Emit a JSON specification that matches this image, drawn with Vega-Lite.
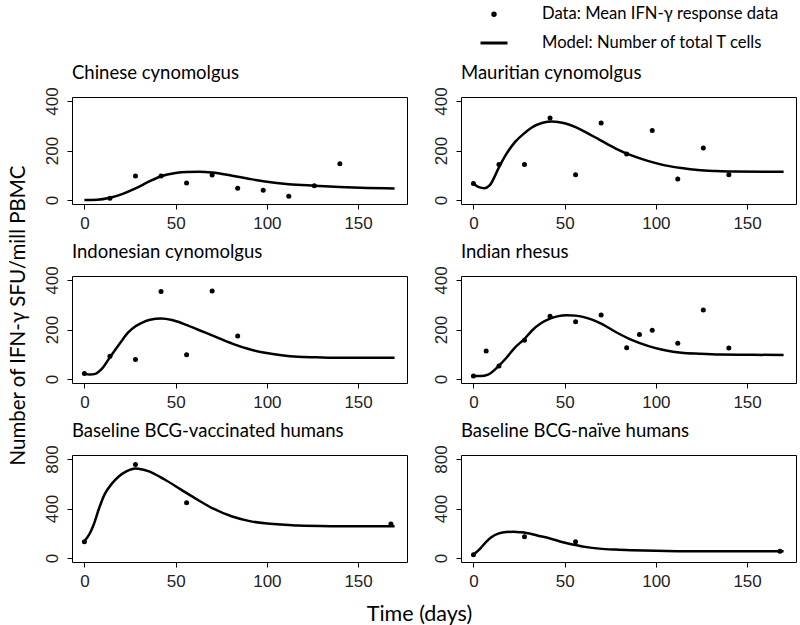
{
  "$schema": "https://vega.github.io/schema/vega-lite/v6.json",
  "padding": {"left": 8, "top": 6, "right": 0, "bottom": 0},
  "background": "white",
  "config": {
    "view": {"stroke": "black", "strokeWidth": 1},
    "axis": {"grid": false, "domain": false, "tickColor": "black", "tickSize": 5, "tickWidth": 1, "labelFont": "Liberation Sans", "labelFontSize": 17, "labelColor": "#222", "labelFlush": false, "title": null},
    "axisX": {"labelPadding": 6},
    "axisY": {"labelPadding": 6, "labelAngle": -90, "labelAlign": "center", "labelBaseline": "bottom"},
    "title": {"font": "Lato", "fontSize": 18.5, "fontWeight": "normal", "anchor": "start", "frame": "group", "offset": 4, "color": "black"},
    "legend": {"orient": "none", "legendX": 407, "legendY": -91, "labelFont": "Lato", "labelFontSize": 16.6, "labelColor": "black", "labelLimit": 0, "rowPadding": 5, "labelOffset": 33, "symbolStrokeColor": "black", "symbolFillColor": "transparent", "symbolStrokeWidth": 3, "title": null}
  },
  "datasets": {
    "pts": [
      {"panel": "Chinese cynomolgus", "day": 14, "value": 7},
      {"panel": "Chinese cynomolgus", "day": 28, "value": 97},
      {"panel": "Chinese cynomolgus", "day": 42, "value": 97},
      {"panel": "Chinese cynomolgus", "day": 56, "value": 69},
      {"panel": "Chinese cynomolgus", "day": 70, "value": 101},
      {"panel": "Chinese cynomolgus", "day": 84, "value": 48},
      {"panel": "Chinese cynomolgus", "day": 98, "value": 40},
      {"panel": "Chinese cynomolgus", "day": 112, "value": 15},
      {"panel": "Chinese cynomolgus", "day": 126, "value": 58},
      {"panel": "Chinese cynomolgus", "day": 140, "value": 147},
      {"panel": "Mauritian cynomolgus", "day": 0, "value": 67},
      {"panel": "Mauritian cynomolgus", "day": 14, "value": 143},
      {"panel": "Mauritian cynomolgus", "day": 28, "value": 143},
      {"panel": "Mauritian cynomolgus", "day": 42, "value": 331},
      {"panel": "Mauritian cynomolgus", "day": 56, "value": 102},
      {"panel": "Mauritian cynomolgus", "day": 70, "value": 311},
      {"panel": "Mauritian cynomolgus", "day": 84, "value": 186},
      {"panel": "Mauritian cynomolgus", "day": 98, "value": 281},
      {"panel": "Mauritian cynomolgus", "day": 112, "value": 85},
      {"panel": "Mauritian cynomolgus", "day": 126, "value": 210},
      {"panel": "Mauritian cynomolgus", "day": 140, "value": 102},
      {"panel": "Indonesian cynomolgus", "day": 0, "value": 22},
      {"panel": "Indonesian cynomolgus", "day": 14, "value": 92},
      {"panel": "Indonesian cynomolgus", "day": 28, "value": 79},
      {"panel": "Indonesian cynomolgus", "day": 42, "value": 353},
      {"panel": "Indonesian cynomolgus", "day": 56, "value": 98},
      {"panel": "Indonesian cynomolgus", "day": 70, "value": 355},
      {"panel": "Indonesian cynomolgus", "day": 84, "value": 174},
      {"panel": "Indian rhesus", "day": 0, "value": 12},
      {"panel": "Indian rhesus", "day": 7, "value": 113},
      {"panel": "Indian rhesus", "day": 14, "value": 53},
      {"panel": "Indian rhesus", "day": 28, "value": 157},
      {"panel": "Indian rhesus", "day": 42, "value": 254},
      {"panel": "Indian rhesus", "day": 56, "value": 231},
      {"panel": "Indian rhesus", "day": 70, "value": 259},
      {"panel": "Indian rhesus", "day": 84, "value": 126},
      {"panel": "Indian rhesus", "day": 91, "value": 180},
      {"panel": "Indian rhesus", "day": 98, "value": 197},
      {"panel": "Indian rhesus", "day": 112, "value": 144},
      {"panel": "Indian rhesus", "day": 126, "value": 279},
      {"panel": "Indian rhesus", "day": 140, "value": 125},
      {"panel": "Baseline BCG-vaccinated humans", "day": 0, "value": 131},
      {"panel": "Baseline BCG-vaccinated humans", "day": 28, "value": 756},
      {"panel": "Baseline BCG-vaccinated humans", "day": 56, "value": 446},
      {"panel": "Baseline BCG-vaccinated humans", "day": 168, "value": 275},
      {"panel": "Baseline BCG-naïve humans", "day": 0, "value": 27},
      {"panel": "Baseline BCG-naïve humans", "day": 28, "value": 171},
      {"panel": "Baseline BCG-naïve humans", "day": 56, "value": 131},
      {"panel": "Baseline BCG-naïve humans", "day": 168, "value": 54}
    ],
    "legendKeys": [
      {"kind": "Data: Mean IFN-γ response data", "day": 0, "value": 0},
      {"kind": "Model:  Number of total T cells", "day": 0, "value": 0}
    ],
    "model": [
      {"panel": "Chinese cynomolgus", "day": 0, "value": 0},
      {"panel": "Chinese cynomolgus", "day": 7, "value": 1},
      {"panel": "Chinese cynomolgus", "day": 14, "value": 9},
      {"panel": "Chinese cynomolgus", "day": 21, "value": 25},
      {"panel": "Chinese cynomolgus", "day": 28, "value": 47},
      {"panel": "Chinese cynomolgus", "day": 35, "value": 73},
      {"panel": "Chinese cynomolgus", "day": 42, "value": 96},
      {"panel": "Chinese cynomolgus", "day": 50, "value": 109},
      {"panel": "Chinese cynomolgus", "day": 56, "value": 113},
      {"panel": "Chinese cynomolgus", "day": 63, "value": 114},
      {"panel": "Chinese cynomolgus", "day": 70, "value": 111},
      {"panel": "Chinese cynomolgus", "day": 81, "value": 98},
      {"panel": "Chinese cynomolgus", "day": 90, "value": 86},
      {"panel": "Chinese cynomolgus", "day": 99, "value": 75},
      {"panel": "Chinese cynomolgus", "day": 112, "value": 64},
      {"panel": "Chinese cynomolgus", "day": 126, "value": 58},
      {"panel": "Chinese cynomolgus", "day": 140, "value": 53},
      {"panel": "Chinese cynomolgus", "day": 155, "value": 49},
      {"panel": "Chinese cynomolgus", "day": 170, "value": 47},
      {"panel": "Mauritian cynomolgus", "day": 0, "value": 67},
      {"panel": "Mauritian cynomolgus", "day": 3, "value": 52},
      {"panel": "Mauritian cynomolgus", "day": 6, "value": 48},
      {"panel": "Mauritian cynomolgus", "day": 9, "value": 60},
      {"panel": "Mauritian cynomolgus", "day": 14, "value": 132},
      {"panel": "Mauritian cynomolgus", "day": 18, "value": 185},
      {"panel": "Mauritian cynomolgus", "day": 23, "value": 236},
      {"panel": "Mauritian cynomolgus", "day": 28, "value": 270},
      {"panel": "Mauritian cynomolgus", "day": 32, "value": 293},
      {"panel": "Mauritian cynomolgus", "day": 38, "value": 312},
      {"panel": "Mauritian cynomolgus", "day": 43, "value": 317},
      {"panel": "Mauritian cynomolgus", "day": 50, "value": 310},
      {"panel": "Mauritian cynomolgus", "day": 56, "value": 294},
      {"panel": "Mauritian cynomolgus", "day": 62, "value": 272},
      {"panel": "Mauritian cynomolgus", "day": 69, "value": 244},
      {"panel": "Mauritian cynomolgus", "day": 78, "value": 208},
      {"panel": "Mauritian cynomolgus", "day": 87, "value": 179},
      {"panel": "Mauritian cynomolgus", "day": 96, "value": 157},
      {"panel": "Mauritian cynomolgus", "day": 105, "value": 140},
      {"panel": "Mauritian cynomolgus", "day": 114, "value": 129},
      {"panel": "Mauritian cynomolgus", "day": 123, "value": 121},
      {"panel": "Mauritian cynomolgus", "day": 133, "value": 117},
      {"panel": "Mauritian cynomolgus", "day": 142, "value": 115},
      {"panel": "Mauritian cynomolgus", "day": 170, "value": 114},
      {"panel": "Indonesian cynomolgus", "day": 0, "value": 22},
      {"panel": "Indonesian cynomolgus", "day": 3, "value": 18},
      {"panel": "Indonesian cynomolgus", "day": 6, "value": 21},
      {"panel": "Indonesian cynomolgus", "day": 10, "value": 45},
      {"panel": "Indonesian cynomolgus", "day": 14, "value": 88},
      {"panel": "Indonesian cynomolgus", "day": 20, "value": 150},
      {"panel": "Indonesian cynomolgus", "day": 24, "value": 188},
      {"panel": "Indonesian cynomolgus", "day": 28, "value": 213},
      {"panel": "Indonesian cynomolgus", "day": 32, "value": 229},
      {"panel": "Indonesian cynomolgus", "day": 36, "value": 239},
      {"panel": "Indonesian cynomolgus", "day": 42, "value": 244},
      {"panel": "Indonesian cynomolgus", "day": 48, "value": 238},
      {"panel": "Indonesian cynomolgus", "day": 54, "value": 224},
      {"panel": "Indonesian cynomolgus", "day": 62, "value": 200},
      {"panel": "Indonesian cynomolgus", "day": 72, "value": 170},
      {"panel": "Indonesian cynomolgus", "day": 81, "value": 143},
      {"panel": "Indonesian cynomolgus", "day": 90, "value": 121},
      {"panel": "Indonesian cynomolgus", "day": 99, "value": 106},
      {"panel": "Indonesian cynomolgus", "day": 108, "value": 96},
      {"panel": "Indonesian cynomolgus", "day": 117, "value": 90},
      {"panel": "Indonesian cynomolgus", "day": 127, "value": 88},
      {"panel": "Indonesian cynomolgus", "day": 140, "value": 86},
      {"panel": "Indonesian cynomolgus", "day": 170, "value": 86},
      {"panel": "Indian rhesus", "day": 0, "value": 12},
      {"panel": "Indian rhesus", "day": 4, "value": 12},
      {"panel": "Indian rhesus", "day": 8, "value": 18},
      {"panel": "Indian rhesus", "day": 14, "value": 54},
      {"panel": "Indian rhesus", "day": 18, "value": 85},
      {"panel": "Indian rhesus", "day": 23, "value": 129},
      {"panel": "Indian rhesus", "day": 28, "value": 162},
      {"panel": "Indian rhesus", "day": 32, "value": 195},
      {"panel": "Indian rhesus", "day": 37, "value": 225},
      {"panel": "Indian rhesus", "day": 42, "value": 244},
      {"panel": "Indian rhesus", "day": 46, "value": 253},
      {"panel": "Indian rhesus", "day": 51, "value": 258},
      {"panel": "Indian rhesus", "day": 56, "value": 256},
      {"panel": "Indian rhesus", "day": 60, "value": 251},
      {"panel": "Indian rhesus", "day": 65, "value": 240},
      {"panel": "Indian rhesus", "day": 70, "value": 224},
      {"panel": "Indian rhesus", "day": 78, "value": 190},
      {"panel": "Indian rhesus", "day": 87, "value": 157},
      {"panel": "Indian rhesus", "day": 96, "value": 133},
      {"panel": "Indian rhesus", "day": 105, "value": 116},
      {"panel": "Indian rhesus", "day": 114, "value": 106},
      {"panel": "Indian rhesus", "day": 124, "value": 102},
      {"panel": "Indian rhesus", "day": 135, "value": 99},
      {"panel": "Indian rhesus", "day": 150, "value": 98},
      {"panel": "Indian rhesus", "day": 170, "value": 97},
      {"panel": "Baseline BCG-vaccinated humans", "day": 0, "value": 135},
      {"panel": "Baseline BCG-vaccinated humans", "day": 3, "value": 200},
      {"panel": "Baseline BCG-vaccinated humans", "day": 5, "value": 267},
      {"panel": "Baseline BCG-vaccinated humans", "day": 8, "value": 400},
      {"panel": "Baseline BCG-vaccinated humans", "day": 11, "value": 512},
      {"panel": "Baseline BCG-vaccinated humans", "day": 15, "value": 600},
      {"panel": "Baseline BCG-vaccinated humans", "day": 19, "value": 661},
      {"panel": "Baseline BCG-vaccinated humans", "day": 23, "value": 700},
      {"panel": "Baseline BCG-vaccinated humans", "day": 28, "value": 724},
      {"panel": "Baseline BCG-vaccinated humans", "day": 35, "value": 702},
      {"panel": "Baseline BCG-vaccinated humans", "day": 44, "value": 634},
      {"panel": "Baseline BCG-vaccinated humans", "day": 53, "value": 552},
      {"panel": "Baseline BCG-vaccinated humans", "day": 62, "value": 471},
      {"panel": "Baseline BCG-vaccinated humans", "day": 71, "value": 396},
      {"panel": "Baseline BCG-vaccinated humans", "day": 81, "value": 335},
      {"panel": "Baseline BCG-vaccinated humans", "day": 90, "value": 300},
      {"panel": "Baseline BCG-vaccinated humans", "day": 99, "value": 280},
      {"panel": "Baseline BCG-vaccinated humans", "day": 108, "value": 270},
      {"panel": "Baseline BCG-vaccinated humans", "day": 117, "value": 262},
      {"panel": "Baseline BCG-vaccinated humans", "day": 136, "value": 257},
      {"panel": "Baseline BCG-vaccinated humans", "day": 150, "value": 256},
      {"panel": "Baseline BCG-vaccinated humans", "day": 170, "value": 256},
      {"panel": "Baseline BCG-naïve humans", "day": 0, "value": 27},
      {"panel": "Baseline BCG-naïve humans", "day": 4, "value": 80},
      {"panel": "Baseline BCG-naïve humans", "day": 7, "value": 131},
      {"panel": "Baseline BCG-naïve humans", "day": 10, "value": 170},
      {"panel": "Baseline BCG-naïve humans", "day": 14, "value": 199},
      {"panel": "Baseline BCG-naïve humans", "day": 18, "value": 210},
      {"panel": "Baseline BCG-naïve humans", "day": 22, "value": 212},
      {"panel": "Baseline BCG-naïve humans", "day": 26, "value": 208},
      {"panel": "Baseline BCG-naïve humans", "day": 29, "value": 203},
      {"panel": "Baseline BCG-naïve humans", "day": 35, "value": 182},
      {"panel": "Baseline BCG-naïve humans", "day": 42, "value": 158},
      {"panel": "Baseline BCG-naïve humans", "day": 49, "value": 128},
      {"panel": "Baseline BCG-naïve humans", "day": 56, "value": 105},
      {"panel": "Baseline BCG-naïve humans", "day": 62, "value": 88},
      {"panel": "Baseline BCG-naïve humans", "day": 69, "value": 76},
      {"panel": "Baseline BCG-naïve humans", "day": 78, "value": 68},
      {"panel": "Baseline BCG-naïve humans", "day": 87, "value": 63},
      {"panel": "Baseline BCG-naïve humans", "day": 100, "value": 58},
      {"panel": "Baseline BCG-naïve humans", "day": 115, "value": 55},
      {"panel": "Baseline BCG-naïve humans", "day": 142, "value": 54},
      {"panel": "Baseline BCG-naïve humans", "day": 170, "value": 54}
    ]
  },
  "title": {"text": "Number of IFN-γ SFU/mill PBMC", "orient": "left", "anchor": "middle", "frame": "bounds", "fontSize": 20.5, "offset": 13},
  "vconcat": [
    {
      "title": {"text": "Time (days)", "orient": "bottom", "anchor": "middle", "frame": "bounds", "fontSize": 21.5, "offset": 14},
      "columns": 2,
      "bounds": "flush",
      "spacing": {"row": 72, "column": 54},
      "concat": [
        {
          "title": "Chinese cynomolgus",
          "width": 335, "height": 107,
          "layer": [
            {"data": {"name": "model"}, "transform": [{"filter": "datum.panel === 'Chinese cynomolgus'"}], "mark": {"type": "line", "color": "black", "strokeWidth": 2.5, "interpolate": "monotone"},
             "encoding": {"x": {"field": "day", "type": "quantitative", "scale": {"domain": [-6.8, 176.8], "nice": false, "zero": false}, "axis": {"values": [0, 50, 100, 150]}},
                          "y": {"field": "value", "type": "quantitative", "scale": {"domain": [-16, 416], "nice": false, "zero": false}, "axis": {"values": [0, 100, 200, 300, 400], "labelExpr": "datum.value % 200 === 0 ? datum.label : ''"}}}},
            {"data": {"name": "pts"}, "transform": [{"filter": "datum.panel === 'Chinese cynomolgus'"}], "mark": {"type": "point", "filled": true, "color": "black", "size": 25, "opacity": 1},
             "encoding": {"x": {"field": "day", "type": "quantitative"}, "y": {"field": "value", "type": "quantitative"}}}
          ]
        },
        {
          "title": "Mauritian cynomolgus",
          "width": 335, "height": 107,
          "layer": [
            {"data": {"name": "model"}, "transform": [{"filter": "datum.panel === 'Mauritian cynomolgus'"}], "mark": {"type": "line", "color": "black", "strokeWidth": 2.5, "interpolate": "monotone"},
             "encoding": {"x": {"field": "day", "type": "quantitative", "scale": {"domain": [-6.8, 176.8], "nice": false, "zero": false}, "axis": {"values": [0, 50, 100, 150]}},
                          "y": {"field": "value", "type": "quantitative", "scale": {"domain": [-16, 416], "nice": false, "zero": false}, "axis": {"values": [0, 100, 200, 300, 400], "labelExpr": "datum.value % 200 === 0 ? datum.label : ''"}}}},
            {"data": {"name": "pts"}, "transform": [{"filter": "datum.panel === 'Mauritian cynomolgus'"}], "mark": {"type": "point", "filled": true, "color": "black", "size": 25, "opacity": 1},
             "encoding": {"x": {"field": "day", "type": "quantitative"}, "y": {"field": "value", "type": "quantitative"}}},
            {"data": {"name": "legendKeys"}, "transform": [{"filter": "false"}], "mark": {"type": "point", "filled": false, "color": "black", "strokeWidth": 3, "opacity": 1},
             "encoding": {"x": {"field": "day", "type": "quantitative"}, "y": {"field": "value", "type": "quantitative"},
                          "shape": {"field": "kind", "type": "nominal", "scale": {"domain": ["Data: Mean IFN-γ response data", "Model:  Number of total T cells"], "range": ["circle", "stroke"]}},
                          "size": {"field": "kind", "type": "nominal", "scale": {"domain": ["Data: Mean IFN-γ response data", "Model:  Number of total T cells"], "range": [6, 729]}}}}
          ]
        },
        {
          "title": "Indonesian cynomolgus",
          "width": 335, "height": 107,
          "layer": [
            {"data": {"name": "model"}, "transform": [{"filter": "datum.panel === 'Indonesian cynomolgus'"}], "mark": {"type": "line", "color": "black", "strokeWidth": 2.5, "interpolate": "monotone"},
             "encoding": {"x": {"field": "day", "type": "quantitative", "scale": {"domain": [-6.8, 176.8], "nice": false, "zero": false}, "axis": {"values": [0, 50, 100, 150]}},
                          "y": {"field": "value", "type": "quantitative", "scale": {"domain": [-16, 416], "nice": false, "zero": false}, "axis": {"values": [0, 100, 200, 300, 400], "labelExpr": "datum.value % 200 === 0 ? datum.label : ''"}}}},
            {"data": {"name": "pts"}, "transform": [{"filter": "datum.panel === 'Indonesian cynomolgus'"}], "mark": {"type": "point", "filled": true, "color": "black", "size": 25, "opacity": 1},
             "encoding": {"x": {"field": "day", "type": "quantitative"}, "y": {"field": "value", "type": "quantitative"}}}
          ]
        },
        {
          "title": "Indian rhesus",
          "width": 335, "height": 107,
          "layer": [
            {"data": {"name": "model"}, "transform": [{"filter": "datum.panel === 'Indian rhesus'"}], "mark": {"type": "line", "color": "black", "strokeWidth": 2.5, "interpolate": "monotone"},
             "encoding": {"x": {"field": "day", "type": "quantitative", "scale": {"domain": [-6.8, 176.8], "nice": false, "zero": false}, "axis": {"values": [0, 50, 100, 150]}},
                          "y": {"field": "value", "type": "quantitative", "scale": {"domain": [-16, 416], "nice": false, "zero": false}, "axis": {"values": [0, 100, 200, 300, 400], "labelExpr": "datum.value % 200 === 0 ? datum.label : ''"}}}},
            {"data": {"name": "pts"}, "transform": [{"filter": "datum.panel === 'Indian rhesus'"}], "mark": {"type": "point", "filled": true, "color": "black", "size": 25, "opacity": 1},
             "encoding": {"x": {"field": "day", "type": "quantitative"}, "y": {"field": "value", "type": "quantitative"}}}
          ]
        },
        {
          "title": "Baseline BCG-vaccinated humans",
          "width": 335, "height": 107,
          "layer": [
            {"data": {"name": "model"}, "transform": [{"filter": "datum.panel === 'Baseline BCG-vaccinated humans'"}], "mark": {"type": "line", "color": "black", "strokeWidth": 2.5, "interpolate": "monotone"},
             "encoding": {"x": {"field": "day", "type": "quantitative", "scale": {"domain": [-6.8, 176.8], "nice": false, "zero": false}, "axis": {"values": [0, 50, 100, 150]}},
                          "y": {"field": "value", "type": "quantitative", "scale": {"domain": [-32, 832], "nice": false, "zero": false}, "axis": {"values": [0, 200, 400, 600, 800], "labelExpr": "datum.value % 400 === 0 ? datum.label : ''"}}}},
            {"data": {"name": "pts"}, "transform": [{"filter": "datum.panel === 'Baseline BCG-vaccinated humans'"}], "mark": {"type": "point", "filled": true, "color": "black", "size": 25, "opacity": 1},
             "encoding": {"x": {"field": "day", "type": "quantitative"}, "y": {"field": "value", "type": "quantitative"}}}
          ]
        },
        {
          "title": "Baseline BCG-naïve humans",
          "width": 335, "height": 107,
          "layer": [
            {"data": {"name": "model"}, "transform": [{"filter": "datum.panel === 'Baseline BCG-naïve humans'"}], "mark": {"type": "line", "color": "black", "strokeWidth": 2.5, "interpolate": "monotone"},
             "encoding": {"x": {"field": "day", "type": "quantitative", "scale": {"domain": [-6.8, 176.8], "nice": false, "zero": false}, "axis": {"values": [0, 50, 100, 150]}},
                          "y": {"field": "value", "type": "quantitative", "scale": {"domain": [-32, 832], "nice": false, "zero": false}, "axis": {"values": [0, 200, 400, 600, 800], "labelExpr": "datum.value % 400 === 0 ? datum.label : ''"}}}},
            {"data": {"name": "pts"}, "transform": [{"filter": "datum.panel === 'Baseline BCG-naïve humans'"}], "mark": {"type": "point", "filled": true, "color": "black", "size": 25, "opacity": 1},
             "encoding": {"x": {"field": "day", "type": "quantitative"}, "y": {"field": "value", "type": "quantitative"}}}
          ]
        }
      ]
    }
  ]
}
